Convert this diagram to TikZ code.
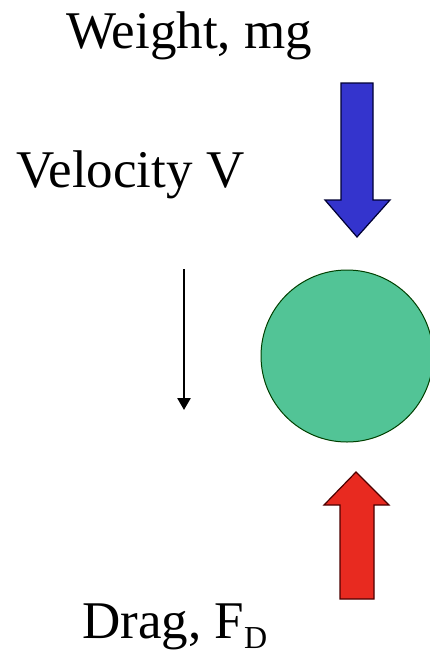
\documentclass[tikz,border=0pt]{standalone}
\usepackage{fontspec}
\setmainfont{Liberation Serif}
\usetikzlibrary{arrows.meta}
\definecolor{wblue}{RGB}{52,52,205}
\definecolor{ballgreen}{RGB}{82,196,150}
\definecolor{dred}{RGB}{232,42,32}
\tikzset{
  lbl/.style={anchor=base west, inner sep=0pt, font=\fontsize{53}{62}\selectfont},
  blockarrow/.style={draw=black!80!blue, line width=1.2pt, line join=miter},
}
\begin{document}
\begin{tikzpicture}[x=1pt,y=-1pt]
\useasboundingbox (0,0) rectangle (430,657);
% labels
\node[lbl] (weight) at (66,48) {Weight, mg};
\node[lbl] (velocity) at (16,187) {Velocity V};
\node[lbl] (drag) at (82,638) {Drag, F\raisebox{-0.2em}{\fontsize{32}{36}\selectfont D}};
% weight arrow
\filldraw[blockarrow, fill=wblue] (341,83) -- (373,83) -- (373,200) -- (390,200) -- (357,237) -- (325,200) -- (341,200) -- cycle;
% ball
\node[circle, draw=black!75!green, line width=1pt, fill=ballgreen, minimum size=172pt, inner sep=0pt] (ball) at (347,356) {};
% drag arrow
\filldraw[blockarrow, draw=black!70!red, fill=dred] (340,599) -- (374,599) -- (374,505) -- (389,505) -- (356,472) -- (324,505) -- (340,505) -- cycle;
% velocity arrow
\coordinate (vtop) at (184,269);
\coordinate (vbot) at (184,410);
\draw[line width=2.6pt, -{Triangle[length=12pt,width=13pt]}] (vtop) -- (vbot);
\end{tikzpicture}
\end{document}
